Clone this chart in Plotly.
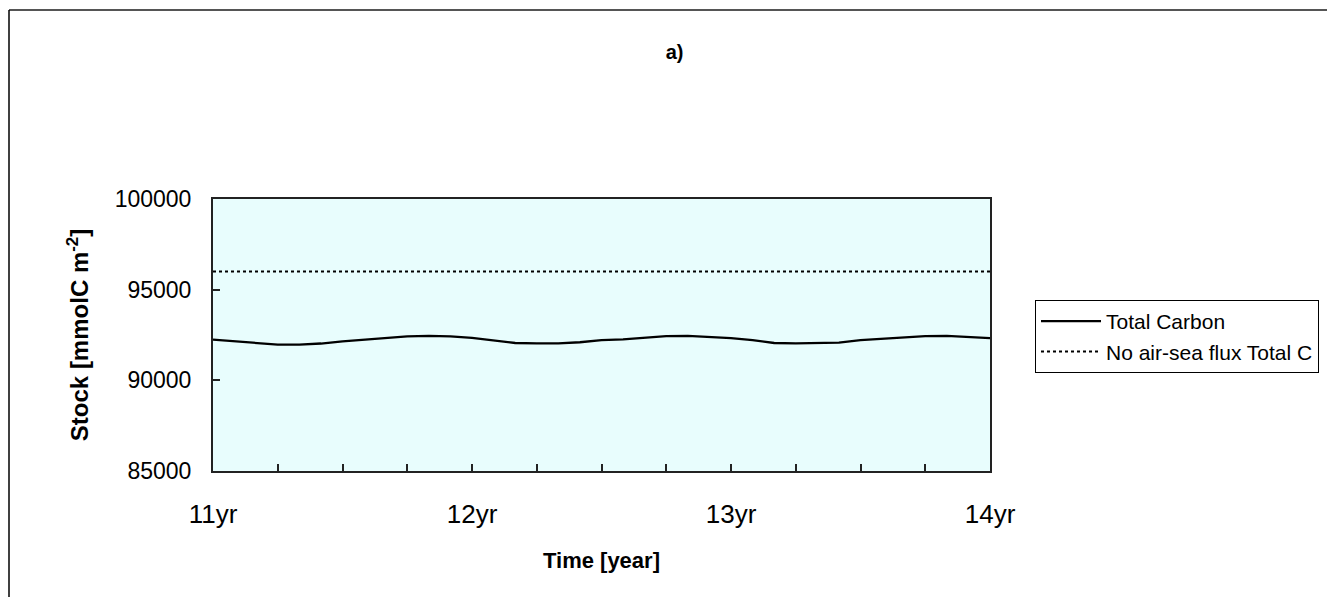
import plotly.graph_objects as go

# ---- data ----
months = list(range(37))
time_years = [11 + m / 12 for m in months]
total_carbon = [92240, 92150, 92040, 91970, 91970, 92030, 92150, 92250, 92330, 92420,
                92450, 92420, 92340, 92200, 92060, 92040, 92040, 92100, 92220, 92260,
                92330, 92440, 92450, 92400, 92330, 92220, 92060, 92040, 92040, 92080,
                92220, 92300, 92360, 92440, 92450, 92400, 92330]
no_flux_total_c = [96000] * len(months)
x_tick_vals = [11, 12, 13, 14]
x_tick_text = ["11yr", "12yr", "13yr", "14yr"]
y_tick_vals = [85000, 90000, 95000, 100000]
y_tick_text = ["85000", "90000", "95000", "100000"]

FONT = "Liberation Sans, Arial, sans-serif"

fig = go.Figure()
fig.add_trace(go.Scatter(x=time_years, y=total_carbon, mode="lines", name="Total Carbon",
                         line=dict(color="black", width=2.3)))
fig.add_trace(go.Scatter(x=time_years, y=no_flux_total_c, mode="lines",
                         name="No air-sea flux Total C",
                         line=dict(color="black", width=2, dash="dot")))

OFF = 8  # page offset of the plot div (body margin)
W, H = 1335, 597
# target plot area in page pixels
PL, PR, PT, PB = 213, 990, 199, 471
L, T = PL - OFF, PT - OFF
pw, ph = PR - PL, PB - PT
R, B = W - L - pw, H - T - ph

def px(xp):
    return (xp - PL) / pw

def py(yp):
    return (PB - yp) / ph

# outer chart border (top and left visible)
fig.add_shape(type="line", xref="paper", yref="paper", x0=px(9), x1=px(1345), y0=py(10), y1=py(10),
              line=dict(color="#555555", width=2))
fig.add_shape(type="line", xref="paper", yref="paper", x0=px(9), x1=px(9), y0=py(10), y1=py(610),
              line=dict(color="black", width=1.5))

fig.update_layout(
    width=W, height=H,
    margin=dict(l=L, r=R, t=T, b=B, autoexpand=False),
    paper_bgcolor="white",
    plot_bgcolor="#E8FDFD",
    font=dict(family=FONT, color="black"),
    title=dict(text="<b>a)</b>", x=px(601), xanchor="center", y=1 - (52 - OFF) / H, yanchor="middle",
               font=dict(size=20, family=FONT)),
    showlegend=True,
    legend=dict(x=px(1035), y=py(300), xanchor="left", yanchor="top",
                bordercolor="black", borderwidth=1, bgcolor="white",
                font=dict(size=21, family=FONT), tracegroupgap=0, itemwidth=60),
    xaxis=dict(range=[11, 14], tickmode="array", tickvals=x_tick_vals, ticktext=x_tick_text,
               ticks="inside", ticklen=7, tickwidth=1.5, tickcolor="#222",
               minor=dict(tickmode="linear", tick0=11, dtick=0.25, ticks="inside", ticklen=7,
                          tickwidth=1.5, tickcolor="#222", showgrid=False),
               showline=True, linecolor="#222", linewidth=2, mirror=True,
               showgrid=False, zeroline=False,
               tickfont=dict(size=26, family=FONT), ticklabelstandoff=19,
               title=dict(text="<b>Time [year]</b>", font=dict(size=22, family=FONT), standoff=24)),
    yaxis=dict(range=[85000, 100000], tickmode="array", tickvals=y_tick_vals, ticktext=y_tick_text,
               ticks="inside", ticklen=7, tickwidth=1.5, tickcolor="#222",
               showline=True, linecolor="#222", linewidth=2, mirror=True,
               showgrid=False, zeroline=False,
               tickfont=dict(size=23, family=FONT), ticklabelstandoff=15,
               title=dict(text="<b>Stock [mmolC m<sup>-2</sup>]</b>", font=dict(size=24, family=FONT),
                          standoff=19)),
)

fig.write_html("out.html")
